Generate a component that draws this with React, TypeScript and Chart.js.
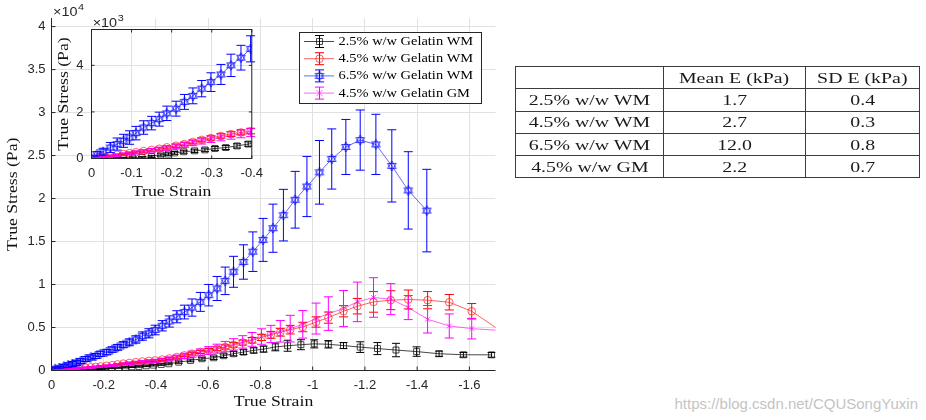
import React, { useEffect, useRef } from 'react';
import { Chart, registerables } from 'chart.js';

Chart.register(...registerables);

// ---------------- data ----------------
const seriesNames = ['2.5% w/w Gelatin WM', '4.5% w/w Gelatin WM', '6.5% w/w Gelatin WM', '4.5% w/w Gelatin GM'];

// 2.5% w/w WM (black)
const blackStrain = [0, -0.014, -0.029, -0.047, -0.064, -0.08, -0.103, -0.126, -0.15, -0.173, -0.192, -0.207, -0.23, -0.257, -0.283, -0.308, -0.335, -0.363, -0.391, -0.42, -0.449, -0.487, -0.532, -0.576, -0.621, -0.659, -0.697, -0.735, -0.774, -0.812, -0.857, -0.904, -0.955, -1.006, -1.06, -1.118, -1.182, -1.248, -1.319, -1.398, -1.484, -1.577, -1.685];
const blackStress = [0, 0, 0, 0, 10, 20, 30, 40, 90, 150, 190, 240, 290, 330, 370, 430, 470, 540, 620, 700, 780, 970, 1170, 1370, 1480, 1720, 1950, 2140, 2340, 2490, 2740, 2880, 3000, 3100, 3050, 2900, 2720, 2550, 2380, 2200, 1950, 1830, 1820];
const blackErr = [0, 10, 15, 20, 25, 30, 35, 40, 45, 50, 55, 60, 65, 70, 75, 80, 85, 90, 95, 100, 110, 130, 150, 170, 190, 210, 240, 270, 300, 350, 450, 640, 580, 470, 430, 350, 620, 700, 780, 550, 300, 270, 270];

// 4.5% w/w WM (red) and 4.5% w/w GM (magenta) share strain samples
const gel45Strain = [0, -0.014, -0.029, -0.047, -0.064, -0.08, -0.095, -0.111, -0.13, -0.15, -0.169, -0.188, -0.211, -0.232, -0.253, -0.275, -0.298, -0.323, -0.348, -0.373, -0.397, -0.424, -0.451, -0.48, -0.509, -0.538, -0.57, -0.602, -0.634, -0.665, -0.697, -0.732, -0.768, -0.804, -0.84, -0.876, -0.914, -0.962, -1.013, -1.06, -1.118, -1.171, -1.233, -1.299, -1.366, -1.44, -1.523, -1.609, -1.72];
const redStress = [0, 40, 80, 120, 160, 190, 230, 270, 320, 370, 420, 480, 550, 620, 710, 800, 880, 970, 1050, 1120, 1170, 1280, 1400, 1570, 1760, 1960, 2160, 2350, 2530, 2740, 2980, 3250, 3520, 3850, 4150, 4450, 4750, 5060, 5640, 6150, 6890, 7480, 7980, 8180, 8260, 8180, 7940, 6890, 4600];
const redErr = [0, 15, 20, 25, 30, 35, 40, 45, 50, 55, 60, 65, 70, 75, 80, 85, 90, 95, 100, 105, 110, 120, 130, 140, 150, 160, 180, 200, 220, 240, 260, 290, 320, 360, 400, 450, 500, 550, 600, 650, 650, 900, 1200, 1100, 1100, 1000, 900, 900, 900];
const pinkStress = [0, 30, 60, 100, 140, 180, 220, 260, 300, 350, 400, 450, 520, 590, 670, 750, 830, 910, 990, 1060, 1120, 1230, 1350, 1520, 1700, 1900, 2100, 2320, 2540, 2780, 3040, 3330, 3620, 3950, 4250, 4560, 4870, 5370, 6040, 6620, 7200, 7980, 8490, 8300, 7320, 5960, 5180, 4870, 4650];
const pinkErr = [0, 20, 30, 40, 50, 55, 60, 65, 70, 75, 80, 90, 100, 110, 120, 130, 140, 150, 160, 170, 180, 200, 230, 270, 310, 350, 400, 450, 520, 600, 660, 720, 800, 900, 1000, 1250, 1550, 1600, 1800, 1950, 2100, 2300, 2300, 1800, 1400, 1600, 1400, 1200, 1200];

// 6.5% w/w WM (blue)
const blueStrain = [0, -0.014, -0.029, -0.047, -0.064, -0.08, -0.095, -0.111, -0.13, -0.15, -0.169, -0.188, -0.211, -0.232, -0.253, -0.275, -0.298, -0.323, -0.348, -0.373, -0.397, -0.424, -0.451, -0.48, -0.509, -0.538, -0.57, -0.602, -0.634, -0.665, -0.697, -0.735, -0.771, -0.81, -0.848, -0.888, -0.933, -0.978, -1.026, -1.073, -1.127, -1.182, -1.242, -1.303, -1.366, -1.437];
const blueStress = [0, 190, 290, 470, 620, 760, 900, 1090, 1330, 1520, 1690, 1940, 2140, 2430, 2690, 3000, 3280, 3610, 4000, 4330, 4710, 5200, 5700, 6250, 6800, 7320, 7980, 8760, 9540, 10430, 11480, 12620, 13820, 15190, 16550, 18070, 19860, 21400, 23050, 24600, 26000, 26800, 26300, 23800, 20950, 18600];
const blueErr = [0, 100, 150, 220, 260, 280, 290, 290, 290, 290, 300, 310, 320, 320, 340, 350, 400, 430, 480, 530, 560, 600, 650, 700, 800, 1000, 1100, 1250, 1400, 1600, 1800, 2000, 2300, 2500, 2800, 3000, 3300, 3500, 3700, 3500, 3200, 3500, 3500, 4200, 4500, 4800];

// tick values
const mainXTicks = [0, -0.2, -0.4, -0.6, -0.8, -1, -1.2, -1.4, -1.6];
const mainYTicks = [0, 5000, 10000, 15000, 20000, 25000, 30000, 35000, 40000];
const insetXTicks = [0, -0.1, -0.2, -0.3, -0.4];
const insetYTicks = [0, 2000, 4000];

// table
const tableHeader = ['', 'Mean E (kPa)', 'SD E (kPa)'];
const tableLabels = ['2.5% w/w WM', '4.5% w/w WM', '6.5% w/w WM', '4.5% w/w GM'];
const tableMeanE = ['1.7', '2.7', '12.0', '2.2'];
const tableSdE = ['0.4', '0.3', '0.8', '0.7'];

const watermark = 'https://blog.csdn.net/CQUSongYuxin';

// ---------------- styling ----------------
const AXIS = '#262626';
const GRID = '#e1e1e1';
const TICK_FONT = { family: 'Liberation Sans, Arial, sans-serif', size: 13 };

const SERIES = [
  { name: seriesNames[0], strain: blackStrain, stress: blackStress, err: blackErr, solid: '#000000', soft: 'rgba(0,0,0,0.72)', marker: 'rect', r: 4.2, cap: 4 },
  { name: seriesNames[1], strain: gel45Strain, stress: redStress, err: redErr, solid: '#ff0000', soft: 'rgba(255,0,0,0.62)', marker: 'circle', r: 3.8, cap: 4.5 },
  { name: seriesNames[2], strain: blueStrain, stress: blueStress, err: blueErr, solid: '#0000ff', soft: 'rgba(0,0,255,0.6)', marker: 'hex', r: 5, cap: 4.5 },
  { name: seriesNames[3], strain: gel45Strain, stress: pinkStress, err: pinkErr, solid: '#ff00ff', soft: 'rgba(255,0,255,0.62)', marker: 'crossRot', r: 3.6, cap: 4.5 },
];

function makeHexagram(): HTMLCanvasElement {
  const c = document.createElement('canvas');
  c.width = 12; c.height = 12;
  const g = c.getContext('2d')!;
  g.strokeStyle = 'rgba(20,20,255,0.8)';
  g.lineWidth = 1;
  const r = 5, cx = 6, cy = 6;
  [-Math.PI / 2, Math.PI / 2].forEach((off) => {
    g.beginPath();
    for (let k = 0; k < 3; k++) {
      const a = off + (k * 2 * Math.PI) / 3;
      const x = cx + r * Math.cos(a), y = cy + r * Math.sin(a);
      if (k === 0) g.moveTo(x, y); else g.lineTo(x, y);
    }
    g.closePath();
    g.stroke();
  });
  return c;
}

function buildDatasets(hex: HTMLCanvasElement) {
  return SERIES.map((s, i) => ({
    label: s.name,
    data: s.strain.map((x, j) => ({ x, y: s.stress[j] })),
    errors: s.err,
    barColor: s.solid,
    capHalf: s.cap,
    showLine: true,
    borderColor: s.soft,
    borderWidth: 1,
    tension: 0,
    fill: false,
    pointStyle: s.marker === 'hex' ? hex : s.marker,
    pointRadius: s.r,
    pointBorderColor: s.soft,
    pointBackgroundColor: 'rgba(0,0,0,0)',
    pointBorderWidth: 1,
    order: 3 - i,
  }));
}

function fmt(v: number) {
  const r = Math.round(v * 100) / 100;
  return r === 0 ? '0' : String(r);
}

function fixedTicks(values: number[]) {
  return (s: any) => {
    s.ticks = values.map((value) => ({ value }));
  };
}

function errorBarPlugin(extraX: number) {
  return {
    id: 'errorBars',
    afterDatasetsDraw(chart: any) {
      const { ctx, chartArea: a, scales } = chart;
      const xs = scales.x, ys = scales.y;
      ctx.save();
      ctx.beginPath();
      ctx.rect(a.left - extraX, a.top, a.right - a.left + 2 * extraX, a.bottom - a.top);
      ctx.clip();
      ctx.lineWidth = 1;
      chart.data.datasets.forEach((ds: any) => {
        ctx.strokeStyle = ds.barColor;
        const cap = ds.capHalf;
        ds.data.forEach((p: any, j: number) => {
          const e = ds.errors[j];
          if (!e) return;
          const px = xs.getPixelForValue(p.x);
          if (px < a.left - 1 || px > a.right + 1) return;
          const yt = ys.getPixelForValue(p.y + e), yb = ys.getPixelForValue(p.y - e);
          ctx.beginPath();
          ctx.moveTo(px, yt); ctx.lineTo(px, yb);
          ctx.moveTo(px - cap, yt); ctx.lineTo(px + cap, yt);
          ctx.moveTo(px - cap, yb); ctx.lineTo(px + cap, yb);
          ctx.stroke();
        });
      });
      ctx.restore();
    },
  };
}

function drawText(ctx: CanvasRenderingContext2D, text: string, x: number, y: number, font: string, align: CanvasTextAlign, rot = 0, sx = 1, color = '#111') {
  ctx.save();
  ctx.translate(x, y);
  if (rot) ctx.rotate(rot);
  ctx.scale(sx, 1);
  ctx.font = font;
  ctx.textAlign = align;
  ctx.textBaseline = 'middle';
  ctx.fillStyle = color;
  ctx.fillText(text, 0, 0);
  ctx.restore();
}

function drawExponent(ctx: CanvasRenderingContext2D, x: number, baseY: number, exp: string) {
  ctx.save();
  ctx.fillStyle = AXIS;
  ctx.textBaseline = 'alphabetic';
  ctx.textAlign = 'left';
  ctx.font = '12px "Liberation Sans", Arial, sans-serif';
  ctx.save(); ctx.translate(x, baseY); ctx.scale(1.2, 1); ctx.fillText('\u00d710', 0, 0); ctx.restore();
  const w = ctx.measureText('\u00d710').width * 1.2;
  ctx.font = '9px "Liberation Sans", Arial, sans-serif';
  ctx.save(); ctx.translate(x + w + 0.5, baseY - 6); ctx.scale(1.2, 1); ctx.fillText(exp, 0, 0); ctx.restore();
  ctx.restore();
}

function drawMarker(ctx: CanvasRenderingContext2D, marker: string, x: number, y: number, r: number, color: string, hex: HTMLCanvasElement) {
  ctx.save();
  ctx.strokeStyle = color;
  ctx.lineWidth = 1;
  ctx.beginPath();
  if (marker === 'rect') {
    const s = r * Math.SQRT1_2;
    ctx.rect(x - s, y - s, 2 * s, 2 * s);
    ctx.stroke();
  } else if (marker === 'circle') {
    ctx.arc(x, y, r, 0, Math.PI * 2);
    ctx.stroke();
  } else if (marker === 'crossRot') {
    const s = r * Math.SQRT1_2 * 1.2;
    ctx.moveTo(x - s, y - s); ctx.lineTo(x + s, y + s);
    ctx.moveTo(x - s, y + s); ctx.lineTo(x + s, y - s);
    ctx.stroke();
  } else {
    ctx.drawImage(hex, x - hex.width / 2, y - hex.height / 2);
  }
  ctx.restore();
}

function line(ctx: CanvasRenderingContext2D, x1: number, y1: number, x2: number, y2: number) {
  ctx.beginPath(); ctx.moveTo(x1, y1); ctx.lineTo(x2, y2); ctx.stroke();
}

const TITLE_FONT = '15px "Liberation Serif", "Times New Roman", serif';

export default function App() {
  const mainRef = useRef<HTMLCanvasElement>(null);
  const insetRef = useRef<HTMLCanvasElement>(null);

  useEffect(() => {
    const hex = makeHexagram();

    const mainDecor = {
      id: 'mainDecor',
      afterDraw(chart: any) {
        const { ctx, chartArea: a, scales } = chart;
        ctx.save();
        ctx.strokeStyle = AXIS;
        ctx.lineWidth = 1;
        ctx.beginPath();
        ctx.moveTo(a.left, a.top); ctx.lineTo(a.left, a.bottom); ctx.lineTo(a.right, a.bottom);
        ctx.stroke();
        scales.y.ticks.forEach((t: any) => {
          const py = scales.y.getPixelForValue(t.value);
          line(ctx, a.left, py, a.left + 4, py);
        });
        scales.x.ticks.forEach((t: any) => {
          const px = scales.x.getPixelForValue(t.value);
          line(ctx, px, a.bottom, px, a.bottom - 4);
        });
        ctx.restore();
        drawText(ctx, 'True Strain', (a.left + a.right) / 2, 402, TITLE_FONT, 'center', 0, 1.18);
        drawText(ctx, 'True Stress (Pa)', 13, (a.top + a.bottom) / 2, TITLE_FONT, 'center', -Math.PI / 2, 1.18);
        drawExponent(ctx, 53, 16, '4');

        // legend
        const x0 = 299.5, y0 = 32.5, w = 182, h = 71;
        ctx.save();
        ctx.fillStyle = '#ffffff';
        ctx.fillRect(x0, y0, w, h);
        ctx.strokeStyle = AXIS;
        ctx.lineWidth = 1;
        ctx.strokeRect(x0, y0, w, h);
        const rows = [41.5, 58.7, 75.9, 93.1];
        SERIES.forEach((s, i) => {
          const y = rows[i];
          ctx.strokeStyle = s.soft;
          line(ctx, 304, y, 334, y);
          ctx.strokeStyle = s.solid;
          line(ctx, 319.5, y - 6, 319.5, y + 6);
          line(ctx, 315, y - 6, 324, y - 6);
          line(ctx, 315, y + 6, 324, y + 6);
          drawMarker(ctx, s.marker, 319.5, y, s.r, s.soft, hex);
          drawText(ctx, s.name, 338.5, y, '13px "Liberation Serif", "Times New Roman", serif', 'left', 0, 1.11, '#000');
        });
        ctx.restore();
      },
    };

    const insetDecor = {
      id: 'insetDecor',
      beforeDraw(chart: any) {
        const { ctx, chartArea: a } = chart;
        ctx.save();
        ctx.fillStyle = '#ffffff';
        ctx.fillRect(a.left, a.top, a.right - a.left, a.bottom - a.top);
        ctx.restore();
      },
      afterDraw(chart: any) {
        const { ctx, chartArea: a, scales } = chart;
        ctx.save();
        ctx.strokeStyle = AXIS;
        ctx.lineWidth = 1;
        ctx.strokeRect(a.left, a.top, a.right - a.left, a.bottom - a.top);
        scales.y.ticks.forEach((t: any) => {
          const py = scales.y.getPixelForValue(t.value);
          line(ctx, a.left, py, a.left + 3, py);
          line(ctx, a.right, py, a.right - 3, py);
        });
        scales.x.ticks.forEach((t: any) => {
          const px = scales.x.getPixelForValue(t.value);
          line(ctx, px, a.bottom, px, a.bottom - 3);
          line(ctx, px, a.top, px, a.top + 3);
        });
        ctx.restore();
        drawText(ctx, 'True Strain', (a.left + a.right) / 2, 192, TITLE_FONT, 'center', 0, 1.18);
        drawText(ctx, 'True Stress (Pa)', 14.5, (a.top + a.bottom) / 2, TITLE_FONT, 'center', -Math.PI / 2, 1.18);
        drawExponent(ctx, 42.7, 27, '3');
      },
    };

    const gridOpts = { color: GRID, lineWidth: 1, drawTicks: false };

    const main = new Chart(mainRef.current!, {
      type: 'scatter',
      data: { datasets: buildDatasets(hex) as any },
      plugins: [errorBarPlugin(0), mainDecor],
      options: {
        animation: false,
        responsive: false,
        maintainAspectRatio: false,
        devicePixelRatio: 1,
        events: [],
        layout: { padding: { left: 0, top: 18, right: 24.5, bottom: 0 }, autoPadding: false },
        plugins: { legend: { display: false }, tooltip: { enabled: false } },
        scales: {
          x: {
            type: 'linear', min: -1.7, max: 0, reverse: true,
            afterBuildTicks: fixedTicks(mainXTicks),
            afterFit: (s: any) => { s.height = 49.5; },
            ticks: { autoSkip: false, maxRotation: 0, padding: 7, color: AXIS, font: TICK_FONT, callback: (v: any) => fmt(Number(v)) },
            grid: gridOpts, border: { display: false },
          },
          y: {
            type: 'linear', min: 0, max: 41000,
            afterBuildTicks: fixedTicks(mainYTicks),
            afterFit: (s: any) => { s.width = 51.5; },
            ticks: { autoSkip: false, padding: 6, color: AXIS, font: TICK_FONT, callback: (v: any) => fmt(Number(v) / 1e4) },
            grid: gridOpts, border: { display: false },
          },
        },
      } as any,
    });

    const inset = new Chart(insetRef.current!, {
      type: 'scatter',
      data: { datasets: buildDatasets(hex) as any },
      plugins: [insetDecor, errorBarPlugin(6)],
      options: {
        animation: false,
        responsive: false,
        maintainAspectRatio: false,
        devicePixelRatio: 1,
        events: [],
        layout: { padding: { left: 0, top: 29.5, right: 6.5, bottom: 0 }, autoPadding: false },
        plugins: { legend: { display: false }, tooltip: { enabled: false } },
        scales: {
          x: {
            type: 'linear', min: -0.4, max: 0, reverse: true,
            afterBuildTicks: fixedTicks(insetXTicks),
            afterFit: (s: any) => { s.height = 46.5; },
            ticks: { autoSkip: false, maxRotation: 0, padding: 7, color: AXIS, font: TICK_FONT, callback: (v: any) => fmt(Number(v)) },
            grid: gridOpts, border: { display: false },
          },
          y: {
            type: 'linear', min: 0, max: 5540,
            afterBuildTicks: fixedTicks(insetYTicks),
            afterFit: (s: any) => { s.width = 41.5; },
            ticks: { autoSkip: false, padding: 8, color: AXIS, font: TICK_FONT, callback: (v: any) => fmt(Number(v) / 1e3) },
            grid: gridOpts, border: { display: false },
          },
        },
      } as any,
    });

    return () => {
      main.destroy();
      inset.destroy();
    };
  }, []);

  const cellStyle: React.CSSProperties = {
    border: '1px solid #3c3c3c',
    padding: 0,
    textAlign: 'center',
    height: 21.3,
    lineHeight: '20px',
    whiteSpace: 'nowrap',
    overflow: 'visible',
  };
  const span = (t: string) => (
    <span style={{ display: 'inline-block', transform: 'scaleX(1.28)' }}>{t}</span>
  );

  return (
    <div style={{ position: 'fixed', left: 0, top: 0, width: 926, height: 420, background: '#ffffff', overflow: 'hidden' }}>
      <canvas ref={mainRef} width={520} height={420} style={{ position: 'absolute', left: 0, top: 0, width: 520, height: 420 }} />
      <canvas ref={insetRef} width={220} height={205} style={{ position: 'absolute', left: 50, top: 0, width: 220, height: 205 }} />
      <table
        style={{
          position: 'absolute', left: 515, top: 66, width: 404, borderCollapse: 'collapse', tableLayout: 'fixed',
          fontFamily: '"Liberation Serif", "Times New Roman", serif', fontSize: 15.5, color: '#1a1a1a',
        }}
      >
        <colgroup>
          <col style={{ width: 148 }} />
          <col style={{ width: 142 }} />
          <col style={{ width: 114 }} />
        </colgroup>
        <tbody>
          <tr>
            {tableHeader.map((h, i) => (
              <td key={i} style={cellStyle}>{span(h)}</td>
            ))}
          </tr>
          {tableLabels.map((lab, i) => (
            <tr key={lab + i}>
              <td style={cellStyle}>{span(lab)}</td>
              <td style={cellStyle}>{span(tableMeanE[i])}</td>
              <td style={cellStyle}>{span(tableSdE[i])}</td>
            </tr>
          ))}
        </tbody>
      </table>
      <div
        style={{
          position: 'absolute', right: 8, top: 395, fontFamily: '"Liberation Sans", Arial, sans-serif', fontSize: 15,
          color: '#c4c4c4', whiteSpace: 'nowrap', lineHeight: '18px',
        }}
      >
        {watermark}
      </div>
    </div>
  );
}
